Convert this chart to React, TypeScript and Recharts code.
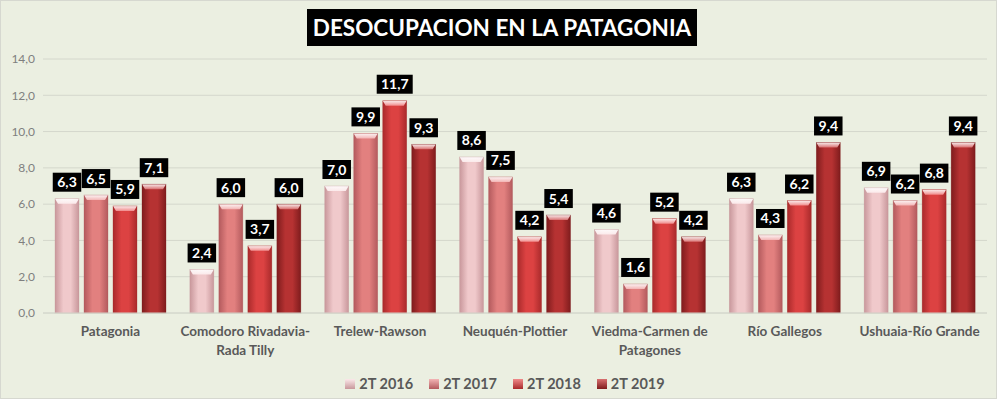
import React from "react";
import { BarChart, Bar, XAxis, YAxis, CartesianGrid, Legend, LabelList } from "recharts";

const categories = [
  "Patagonia",
  "Comodoro Rivadavia-Rada Tilly",
  "Trelew-Rawson",
  "Neuquén-Plottier",
  "Viedma-Carmen de Patagones",
  "Río Gallegos",
  "Ushuaia-Río Grande",
];
const tickLines = [
  ["Patagonia"],
  ["Comodoro Rivadavia-", "Rada Tilly"],
  ["Trelew-Rawson"],
  ["Neuquén-Plottier"],
  ["Viedma-Carmen de", "Patagones"],
  ["Río Gallegos"],
  ["Ushuaia-Río Grande"],
];
const s2016 = [6.3, 2.4, 7.0, 8.6, 4.6, 6.3, 6.9];
const s2017 = [6.5, 6.0, 9.9, 7.5, 1.6, 4.3, 6.2];
const s2018 = [5.9, 3.7, 11.7, 4.2, 5.2, 6.2, 6.8];
const s2019 = [7.1, 6.0, 9.3, 5.4, 4.2, 9.4, 9.4];
const seriesNames = ["2T 2016", "2T 2017", "2T 2018", "2T 2019"];
const yTicks = [0, 2, 4, 6, 8, 10, 12, 14];
const title = "DESOCUPACION EN LA PATAGONIA";

const keys = ["v2016", "v2017", "v2018", "v2019"];
const palettes = [
  { edge: "#c8979b", mid: "#f0c9cb", top: "#fbe9ea" },
  { edge: "#b35a5d", mid: "#e2807f", top: "#f3b5b5" },
  { edge: "#a92a2b", mid: "#dc4242", top: "#f08a8a" },
  { edge: "#7f1c1d", mid: "#b63232", top: "#d87070" },
];

const data = categories.map((c, i) => ({
  name: c,
  v2016: s2016[i],
  v2017: s2017[i],
  v2018: s2018[i],
  v2019: s2019[i],
}));

const FONT = "Lato, 'Open Sans', sans-serif";
const fmt = (v: number) => v.toFixed(1).replace(".", ",");

const makeShape = (idx: number) => (props: any) => {
  const { x, y, width, height } = props;
  if (!height || height <= 0) return null;
  const p = palettes[idx];
  const bev = Math.min(5, height);
  return (
    <g>
      <rect x={x} y={y} width={width} height={height} fill={`url(#grad${idx})`} />
      <polygon
        points={`${x},${y} ${x + width},${y} ${x + width - 3},${y + bev} ${x + 3},${y + bev}`}
        fill={`url(#top${idx})`}
      />
      <rect x={x} y={y} width={width} height={height} fill="none" stroke={p.edge} strokeOpacity={0.5} strokeWidth={0.6} />
    </g>
  );
};

const renderLabel = (props: any) => {
  const { x, y, width, value } = props;
  const txt = fmt(Number(value));
  const w = txt.length * 7.5 + 6;
  const h = 19;
  const cx = x + width / 2;
  const by = y - 7 - h;
  return (
    <g>
      <rect x={cx - w / 2} y={by} width={w} height={h} fill="#000" />
      <text x={cx} y={by + h / 2 + 5} textAnchor="middle" fill="#fff" fontFamily={FONT} fontWeight={700} fontSize={14}>
        {txt}
      </text>
    </g>
  );
};

const XTick = (props: any) => {
  const { x, y, index } = props;
  const lines = tickLines[index] || [];
  return (
    <g>
      {lines.map((l, i) => (
        <text key={i} x={x} y={y + 15 + i * 19} textAnchor="middle" fill="#595959" fontFamily={FONT} fontWeight={700} fontSize={13.5}>
          {l}
        </text>
      ))}
    </g>
  );
};

const LegendContent = () => (
  <div style={{ display: "flex", justifyContent: "center", gap: 16, fontFamily: FONT, fontWeight: 700, fontSize: 14.5, color: "#595959", marginLeft: 22 }}>
    {seriesNames.map((n, i) => (
      <div key={n} style={{ display: "flex", alignItems: "center", gap: 4 }}>
        <svg width={10} height={10}>
          <rect x={0} y={0} width={10} height={10} fill={`url(#lg${i})`} />
        </svg>
        <span>{n}</span>
      </div>
    ))}
  </div>
);

export default function App() {
  return (
    <div style={{ position: "absolute", left: 0, top: 0, width: 997, height: 399, background: "#ebefe1", boxSizing: "border-box", border: "1px solid #d6d8d0", overflow: "hidden" }}>
      <svg width={0} height={0} style={{ position: "absolute" }}>
        <defs>
          {palettes.map((p, i) => (
            <linearGradient key={i} id={`lg${i}`} x1="0" y1="0" x2="0" y2="1">
              <stop offset="0%" stopColor={p.top} />
              <stop offset="100%" stopColor={p.edge} />
            </linearGradient>
          ))}
        </defs>
      </svg>
      <div style={{ position: "absolute", left: 306, top: 8, width: 390, height: 37, background: "#000", color: "#fff", fontFamily: FONT, fontWeight: 700, fontSize: 22.5, display: "flex", alignItems: "center", justifyContent: "center", whiteSpace: "nowrap", zIndex: 2 }}>
        {title}
      </div>
      <BarChart width={995} height={397} data={data} margin={{ top: 58, right: 9, left: 0, bottom: 6 }} barSize={24} barGap={5}>
        <defs>
          {palettes.map((p, i) => (
            <linearGradient key={"g" + i} id={`grad${i}`} x1="0" y1="0" x2="1" y2="0">
              <stop offset="0%" stopColor={p.edge} />
              <stop offset="35%" stopColor={p.mid} />
              <stop offset="65%" stopColor={p.mid} />
              <stop offset="100%" stopColor={p.edge} />
            </linearGradient>
          ))}
          {palettes.map((p, i) => (
            <linearGradient key={"t" + i} id={`top${i}`} x1="0" y1="0" x2="0" y2="1">
              <stop offset="0%" stopColor="#ffffff" stopOpacity={0.9} />
              <stop offset="100%" stopColor={p.top} />
            </linearGradient>
          ))}
        </defs>
        <CartesianGrid vertical={false} stroke="#d4d7cc" />
        <XAxis dataKey="name" tick={<XTick />} tickLine={false} axisLine={{ stroke: "#d4d7cc" }} interval={0} height={60} />
        <YAxis
          domain={[0, 14]}
          ticks={yTicks}
          tickFormatter={fmt}
          width={42}
          tickLine={false}
          axisLine={false}
          tick={{ fill: "#7f7f7f", fontSize: 12, fontFamily: FONT }}
        />
        <Legend verticalAlign="bottom" content={<LegendContent />} wrapperStyle={{ paddingTop: 2 }} />
        {keys.map((k, i) => (
          <Bar key={k} dataKey={k} name={seriesNames[i]} isAnimationActive={false} shape={makeShape(i)}>
            <LabelList dataKey={k} content={renderLabel} />
          </Bar>
        ))}
      </BarChart>
    </div>
  );
}
